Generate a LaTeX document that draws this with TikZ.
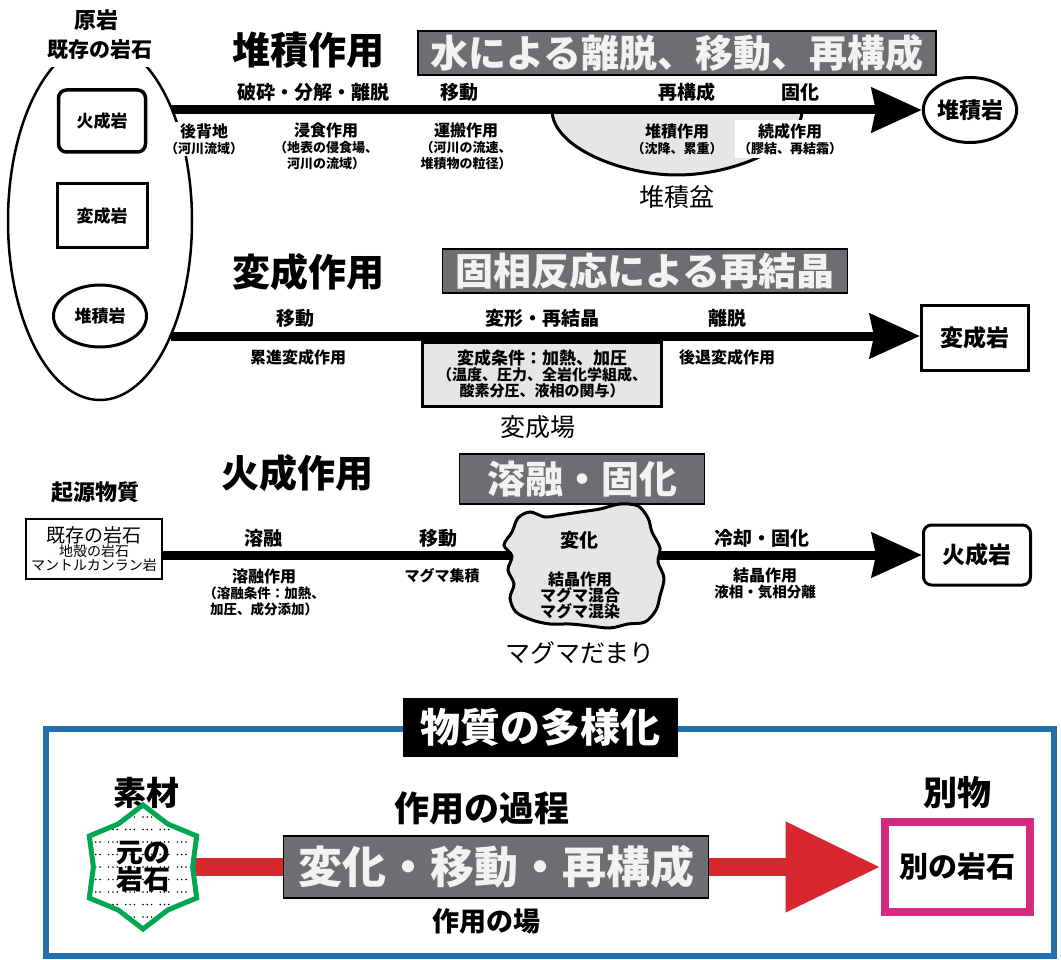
\documentclass[tikz,border=0pt]{standalone}
\usepackage{fontspec}
\setmainfont{Noto Sans CJK JP}
\newfontfamily\heavyfont{Noto Sans CJK JP Black}
\usetikzlibrary{arrows.meta,shapes.geometric,calc}
\pgfdeclarelayer{background}
\pgfsetlayers{background,main}
\newcommand\fsz[1]{\fontsize{#1}{#1}\selectfont}
\definecolor{boxgray}{HTML}{6D6E71}
\definecolor{boxtext}{HTML}{F2F2F2}
\definecolor{lightfill}{HTML}{E6E6E6}
\definecolor{frameblue}{HTML}{2070B0}
\definecolor{arrowred}{HTML}{D7282F}
\definecolor{stargreen}{HTML}{00A651}
\definecolor{magframe}{HTML}{D42A80}
\begin{document}
\begin{tikzpicture}[x=1pt,y=-1pt,
  every node/.style={align=center, inner sep=1pt},
  hd/.style={font=\fsz{38}\heavyfont},
  gbox/.style={draw=black, line width=1.5pt, fill=boxgray, text=boxtext, font=\fsz{38}\heavyfont, inner sep=0pt},
  up/.style={font=\fsz{19}\bfseries},
  dn/.style={font=\fsz{16}\bfseries},
  place/.style={font=\fsz{25}},
  flow/.style={line width=9pt, -{Stealth[length=50pt,width=44pt,inset=4pt]}},
  rock/.style={draw, line width=3pt, font=\fsz{23}\bfseries, inner sep=0pt},
  inrock/.style={draw, line width=3pt, font=\fsz{17}\bfseries, inner sep=0pt},
  redflow/.style={arrowred, line width=18pt},
]
\useasboundingbox (0,0) rectangle (1061,960);

% ---------- source rocks ----------
\node[ellipse, draw, line width=2.5pt, minimum width=184pt, minimum height=358pt, inner sep=0pt] (orig) at (100,221) {};
\node[fill=white, font=\fsz{21}\bfseries, minimum height=34pt, inner sep=2pt] (kizon) at (100,50) {既存の岩石};
\node[font=\fsz{22}\heavyfont] (genkan) at (96,20) {原岩};
\node[inrock, rounded corners=8pt, line width=3.5pt, minimum width=87pt, minimum height=62pt] (ig1) at (102,121) {火成岩};
\node[inrock, minimum width=90pt, minimum height=64pt] (me1) at (102,216) {変成岩};
\node[inrock, ellipse, minimum width=93pt, minimum height=62pt] (se1) at (100,316) {堆積岩};

% ---------- sedimentation ----------
\node[hd] (hsed) at (308,50) {堆積作用};
\node[gbox, minimum width=518pt, minimum height=44pt] (gsed) at (677,53) {水による離脱、移動、再構成};
\filldraw[fill=lightfill, line width=3pt] (552,110) .. controls (552,147) and (621,175) .. (677,175) .. controls (733,175) and (802,147) .. (802,110);
\coordinate (s1) at (172,110);
\node[rock, ellipse, font=\fsz{22}\bfseries, minimum width=92pt, minimum height=65pt] (sed) at (970,110) {堆積岩};
\draw[flow] (s1) -- (sed.west);
\node[up] (u11) at (313,92) {破砕・分解・離脱};
\node[up] (u12) at (459,92) {移動};
\node[up] (u13) at (687,92) {再構成};
\node[up] (u14) at (800,92) {固化};
\node[dn, fill=white] (d11) at (204,139) {\fsz{16}後背地\\\fsz{13}（河川流域）};
\node[dn] (d12) at (326,146) {\fsz{16}浸食作用\\\fsz{13}（地表の侵食場、\\\fsz{13}河川の流域）};
\node[dn] (d13) at (466,146) {\fsz{16}運搬作用\\\fsz{13}（河川の流速、\\\fsz{13}堆積物の粒径）};
\node[dn] (d14) at (677,139) {\fsz{16}堆積作用\\\fsz{13}（沈降、累重）};
\node[dn, fill=white, inner sep=3pt] (d15) at (790,139) {\fsz{16}続成作用\\\fsz{13}（膠結、再結霜）};
\node[place] (basin) at (677,197) {堆積盆};

% ---------- metamorphism ----------
\node[hd] (hmet) at (308,272) {変成作用};
\node[gbox, minimum width=405pt, minimum height=44pt] (gmet) at (645,271) {固相反応による再結晶};
\node[draw, line width=3pt, fill=lightfill, minimum width=239pt, minimum height=64pt, font=\bfseries] (field) at (542,374) {\fsz{17}変成条件：加熱、加圧\\\fsz{15}（温度、圧力、全岩化学組成、\\\fsz{15}酸素分圧、液相の関与）};
\coordinate (s2) at (171,336);
\node[rock, minimum width=107pt, minimum height=64pt] (met) at (975,338) {変成岩};
\draw[flow] (s2) -- (s2 -| met.west);
\node[up] (u21) at (295,318) {移動};
\node[up] (u22) at (542,318) {変形・再結晶};
\node[up] (u23) at (727,318) {離脱};
\node[dn] (d21) at (298,357) {累進変成作用};
\node[dn] (d22) at (727,357) {後退変成作用};
\node[place] (mfield) at (538,427) {変成場};

% ---------- igneous ----------
\node[font=\fsz{22}\heavyfont] (kigen) at (95,492) {起源物質};
\node[hd] (hign) at (297,473) {火成作用};
\node[gbox, minimum width=245pt, minimum height=50pt] (gign) at (582,479) {溶融・固化};
\node[draw, line width=1.5pt, minimum width=136pt, minimum height=60pt, inner sep=0pt] (src) at (94,549) {\fsz{19}既存の岩石\\\fsz{14}地殻の岩石\\\fsz{14}マントルカンラン岩};
\node[rock, rounded corners=8pt, minimum width=107pt, minimum height=60pt] (ign) at (977,555) {火成岩};
\draw[flow] (src.east |- ign.west) -- (ign.west);
\filldraw[fill=lightfill, line width=3pt] plot[smooth cycle, tension=0.55] coordinates {(512,532) (518,518) (530,512) (545,517) (560,515) (580,512) (600,509) (620,504) (638,506) (648,518) (652,532) (660,548) (658,562) (664,578) (660,596) (656,610) (645,622) (628,624) (610,628) (590,626) (570,624) (550,624) (532,620) (516,612) (510,598) (514,584) (508,570) (512,556) (504,545)};
\node[up] (u31) at (263,538) {溶融};
\node[up] (u32) at (438,538) {移動};
\node[up] (u33) at (579,540) {変化};
\node[up] (u34) at (762,538) {冷却・固化};
\node[dn] (d31) at (264,592) {\fsz{16}溶融作用\\\fsz{13.5}（溶融条件：加熱、\\\fsz{13.5}加圧、成分添加）};
\node[dn, font=\fsz{15}\bfseries] (d32) at (442,576) {マグマ集積};
\node[dn] (d33) at (580,595) {\fsz{16}結晶作用\\\fsz{16}マグマ混合\\\fsz{16}マグマ混染};
\node[dn] (d34) at (765,583) {\fsz{16}結晶作用\\\fsz{14.5}液相・気相分離};
\node[place] (chamber) at (580,653) {マグマだまり};

% ---------- diversification ----------
\node[draw=frameblue, line width=6pt, minimum width=1008pt, minimum height=227pt, inner sep=0pt] (frame) at (550,842.5) {};
\node[fill=black, text=white, font=\fsz{40}\heavyfont, minimum width=275pt, minimum height=59pt, inner sep=0pt] (title) at (540,727) {物質の多様化};
\node[font=\fsz{33}\heavyfont] (sozai) at (146,793) {素材};
\node[star, star points=6, star point ratio=1.25, draw=stargreen, line width=5pt, fill=white, minimum size=124pt, inner sep=0pt,
  path picture={\foreach \rr in {-5,...,5}{\foreach \cc in {-15,...,15}{\pgfmathtruncatemacro\dotmod{mod(\cc+40,4)}\ifnum\dotmod=3 \else\fill[black] ([shift={(\cc*4.3,\rr*12.5)}]path picture bounding box.center) circle[radius=0.85pt];\fi}}}] (star) at (143,867) {};
\node[font=\fsz{27}\bfseries] (moto) at (143,867) {\fsz{27}元の\\\fsz{27}岩石};
\node[font=\fsz{35}\heavyfont] (kate) at (482,808) {作用の過程};
\node[gbox, font=\fsz{44}\heavyfont, minimum width=425pt, minimum height=62pt] (gdiv) at (496,867) {変化・移動・再構成};
\node[font=\fsz{27}\bfseries] (ba) at (486,921) {作用の場};
\node[font=\fsz{34}\heavyfont] (betsu) at (957,793) {別物};
\node[draw=magframe, line width=8pt, minimum width=145pt, minimum height=90pt, font=\fsz{29}\bfseries, inner sep=0pt] (mag) at (957,867) {別の岩石};
\begin{pgfonlayer}{background}
\draw[redflow] (star.center) -- (gdiv.west);
\draw[redflow, -{Triangle[length=95pt,width=86pt]}] (gdiv.east) -- (mag.west);
\end{pgfonlayer}
\end{tikzpicture}
\end{document}
